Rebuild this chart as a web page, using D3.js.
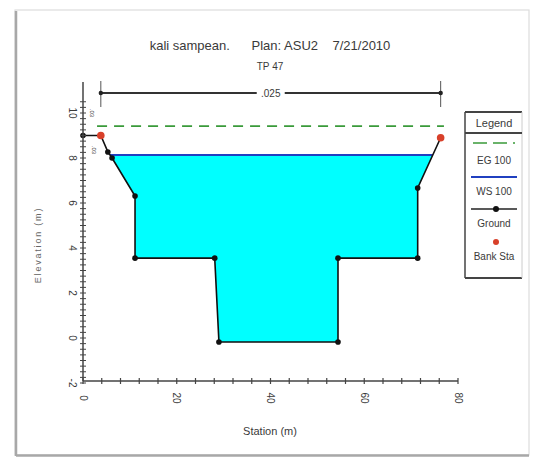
<!DOCTYPE html>
<html>
<head>
<meta charset="utf-8">
<script src="https://cdn.jsdelivr.net/npm/d3@7"></script>
<style>
  html, body { margin: 0; padding: 0; background: #fff; }
  svg { display: block; }
  text { font-family: "Liberation Sans", Arial, sans-serif; fill: #3a3a3a; }
</style>
</head>
<body>
<svg id="chart" width="535" height="459"></svg>
<script>
// Cross-section TP 47, profile 100
const titleText = "kali sampean.      Plan: ASU2    7/21/2010";
const subtitleText = "TP 47";

// Ground geometry (station m, elevation m)
const groundStation = [0, 3.8, 5.3, 6.2, 11.1, 11.1, 28.1, 29.0, 54.4, 54.4, 71.4, 71.4, 76.3];
const groundElev    = [9.0, 9.0, 8.27, 8.0, 6.31, 3.55, 3.55, -0.18, -0.18, 3.55, 3.55, 6.67, 8.9];

// Bank stations
const bankStation = [3.8, 76.3];
const bankElev    = [9.0, 8.9];

// Water surface and energy grade for profile 100
const wsElev = 8.13;
const egElev = 9.42;
const egStation = [3.0, 77.0];

// Manning's n labels
const channelN = ".025";
const overbankN = ".03";

// Axis ticks
const xTicks = [0, 20, 40, 60, 80];
const yTicks = [-2, 0, 2, 4, 6, 8, 10];

const legendLabels = ["EG 100", "WS 100", "Ground", "Bank Sta"];

const svg = d3.select("#chart");

// outer frame
svg.append("rect").attr("x", 15).attr("y", 10).attr("width", 514).attr("height", 445)
  .attr("fill", "#fff").attr("stroke", "#ddd").attr("stroke-width", 1.2);
svg.append("line").attr("x1", 16).attr("x2", 16).attr("y1", 11).attr("y2", 456)
  .attr("stroke", "#a8a8a8").attr("stroke-width", 2.5);
svg.append("line").attr("x1", 16).attr("x2", 529).attr("y1", 455.5).attr("y2", 455.5)
  .attr("stroke", "#a8a8a8").attr("stroke-width", 2.5);

const x = d3.scaleLinear().domain([0, 80]).range([83, 458]);
const y = d3.scaleLinear().domain([-2, 10]).range([383, 113]);

const ground = groundStation.map((s, i) => [s, groundElev[i]]);

// water polygon: ground clipped below the water surface
const water = [];
for (let i = 0; i < ground.length - 1; i++) {
  const [s0, e0] = ground[i], [s1, e1] = ground[i + 1];
  if (e0 <= wsElev) water.push([s0, e0]);
  if ((e0 - wsElev) * (e1 - wsElev) < 0) {
    const t = (wsElev - e0) / (e1 - e0);
    water.push([s0 + t * (s1 - s0), wsElev]);
  }
}
if (ground[ground.length - 1][1] <= wsElev) water.push(ground[ground.length - 1]);

const line = d3.line().x(d => x(d[0])).y(d => y(d[1]));

svg.append("path").attr("d", line(water) + "Z")
  .attr("fill", "#00ffff").attr("stroke", "none");

// WS line
const wsLeft = water[0][0], wsRight = water[water.length - 1][0];
svg.append("line").attr("x1", x(wsLeft)).attr("x2", x(wsRight))
  .attr("y1", y(wsElev)).attr("y2", y(wsElev))
  .attr("stroke", "#2040c0").attr("stroke-width", 2);

// EG line
svg.append("line").attr("x1", x(egStation[0])).attr("x2", x(egStation[1]))
  .attr("y1", y(egElev)).attr("y2", y(egElev))
  .attr("stroke", "#3a9a3a").attr("stroke-width", 1.8).attr("stroke-dasharray", "10,7");

// ground line and points
svg.append("path").attr("d", line(ground)).attr("fill", "none")
  .attr("stroke", "#111").attr("stroke-width", 1.6);
svg.selectAll("circle.g").data(ground).join("circle").attr("class", "g")
  .attr("cx", d => x(d[0])).attr("cy", d => y(d[1])).attr("r", 2.8).attr("fill", "#111");

// bank stations
svg.selectAll("circle.b").data(bankStation).join("circle").attr("class", "b")
  .attr("cx", d => x(d)).attr("cy", (d, i) => y(bankElev[i])).attr("r", 3.8)
  .attr("fill", "#d8402a");

// axes
const axisColor = "#444";
const gx = svg.append("g").attr("transform", `translate(0,${y(-2) - 2})`);
gx.append("line").attr("x1", x(0)).attr("x2", x(80)).attr("stroke", axisColor).attr("stroke-width", 1.5);
gx.selectAll("line.mt").data(d3.range(0, 80.01, 4)).join("line").attr("class", "mt")
  .attr("x1", d => x(d)).attr("x2", d => x(d)).attr("y1", -3).attr("y2", 3)
  .attr("stroke", axisColor).attr("stroke-width", 1.2);
gx.selectAll("text").data(xTicks).join("text")
  .attr("transform", d => `translate(${x(d)},17) rotate(90)`)
  .attr("text-anchor", "middle").attr("dy", "0.35em")
  .attr("font-size", 10).text(d => d);

const gy = svg.append("g").attr("transform", `translate(${x(0)},0)`);
gy.append("line").attr("y1", y(-2) - 2).attr("y2", 82).attr("stroke", axisColor).attr("stroke-width", 1.5);
gy.selectAll("line.mt").data(d3.range(-2, 10.51, 0.25)).join("line").attr("class", "mt")
  .attr("y1", d => y(d)).attr("y2", d => y(d)).attr("x1", -3).attr("x2", 3)
  .attr("stroke", axisColor).attr("stroke-width", 1);
gy.selectAll("text").data(yTicks).join("text")
  .attr("transform", d => `translate(-11,${y(d)}) rotate(90)`)
  .attr("text-anchor", "middle").attr("dy", "0.35em")
  .attr("font-size", 10).text(d => d);

// axis titles
svg.append("text").attr("x", 270).attr("y", 435).attr("text-anchor", "middle")
  .attr("font-size", 11).text("Station (m)");
svg.append("text").attr("transform", "translate(38,245) rotate(-90)")
  .attr("text-anchor", "middle").attr("dy", "0.35em")
  .attr("font-size", 9).attr("letter-spacing", 1.8).style("fill", "#666").text("Elevation (m)");

// titles
svg.append("text").attr("x", 270).attr("y", 50).attr("text-anchor", "middle")
  .attr("font-size", 13).style("white-space", "pre").text(titleText);
svg.append("text").attr("x", 270).attr("y", 70).attr("text-anchor", "middle")
  .attr("font-size", 10).text(subtitleText);

// Manning's n brackets
const by = 93;
const bx0 = x(bankStation[0]), bx1 = x(bankStation[1]), bmid = (bx0 + bx1) / 2;
svg.append("line").attr("x1", bx0).attr("x2", bmid - 14).attr("y1", by).attr("y2", by)
  .attr("stroke", "#333").attr("stroke-width", 1.8);
svg.append("line").attr("x1", bmid + 14).attr("x2", bx1).attr("y1", by).attr("y2", by)
  .attr("stroke", "#333").attr("stroke-width", 1.8);
[bx0, bx1].forEach(v => {
  svg.append("line").attr("x1", v).attr("x2", v).attr("y1", 81).attr("y2", 107)
    .attr("stroke", "#555").attr("stroke-width", 1);
  svg.append("circle").attr("cx", v).attr("cy", by).attr("r", 2.2).attr("fill", "#222");
});
svg.append("text").attr("x", bmid).attr("y", by).attr("dy", "0.35em").attr("text-anchor", "middle")
  .attr("font-size", 10).text(channelN);
// left overbank n (narrow, drawn vertically)
svg.append("text").attr("transform", `translate(${x(bankStation[0] / 2)},113) rotate(90)`)
  .attr("text-anchor", "middle").attr("dy", "0.35em").attr("font-size", 6).text(overbankN);
svg.append("text").attr("transform", `translate(${x(bankStation[0] / 2) + 2},150) rotate(90)`)
  .attr("text-anchor", "middle").attr("dy", "0.35em").attr("font-size", 6).text(overbankN);

// legend
const lg = svg.append("g").attr("transform", "translate(465,112)");
lg.append("line").attr("x1", 0).attr("x2", 57).attr("y1", 0).attr("y2", 0).attr("stroke", "#444").attr("stroke-width", 2);
lg.append("line").attr("x1", 0).attr("x2", 57).attr("y1", 166).attr("y2", 166).attr("stroke", "#444").attr("stroke-width", 2);
lg.append("line").attr("x1", 0).attr("x2", 0).attr("y1", 0).attr("y2", 166).attr("stroke", "#444").attr("stroke-width", 1.5);
lg.append("line").attr("x1", 57).attr("x2", 57).attr("y1", 0).attr("y2", 166).attr("stroke", "#ccc").attr("stroke-width", 1);
lg.append("line").attr("x1", 0).attr("x2", 57).attr("y1", 21).attr("y2", 21).attr("stroke", "#444").attr("stroke-width", 2);
lg.append("text").attr("x", 29).attr("y", 15).attr("text-anchor", "middle").attr("font-size", 11).text("Legend");

const sy = [31, 65, 97, 130];
const ty = [52, 83, 115, 148];
lg.append("line").attr("x1", 8).attr("x2", 50).attr("y1", sy[0]).attr("y2", sy[0])
  .attr("stroke", "#3a9a3a").attr("stroke-width", 1.5).attr("stroke-dasharray", "14,6");
lg.append("line").attr("x1", 6).attr("x2", 52).attr("y1", sy[1]).attr("y2", sy[1])
  .attr("stroke", "#2040c0").attr("stroke-width", 2);
lg.append("line").attr("x1", 6).attr("x2", 52).attr("y1", sy[2]).attr("y2", sy[2])
  .attr("stroke", "#222").attr("stroke-width", 1.6);
lg.append("circle").attr("cx", 31).attr("cy", sy[2]).attr("r", 3).attr("fill", "#111");
lg.append("circle").attr("cx", 31).attr("cy", sy[3]).attr("r", 3).attr("fill", "#d8402a");
lg.selectAll("text.l").data(legendLabels).join("text").attr("class", "l")
  .attr("x", 29).attr("y", (d, i) => ty[i]).attr("text-anchor", "middle")
  .attr("font-size", 10).text(d => d);
</script>
</body>
</html>
